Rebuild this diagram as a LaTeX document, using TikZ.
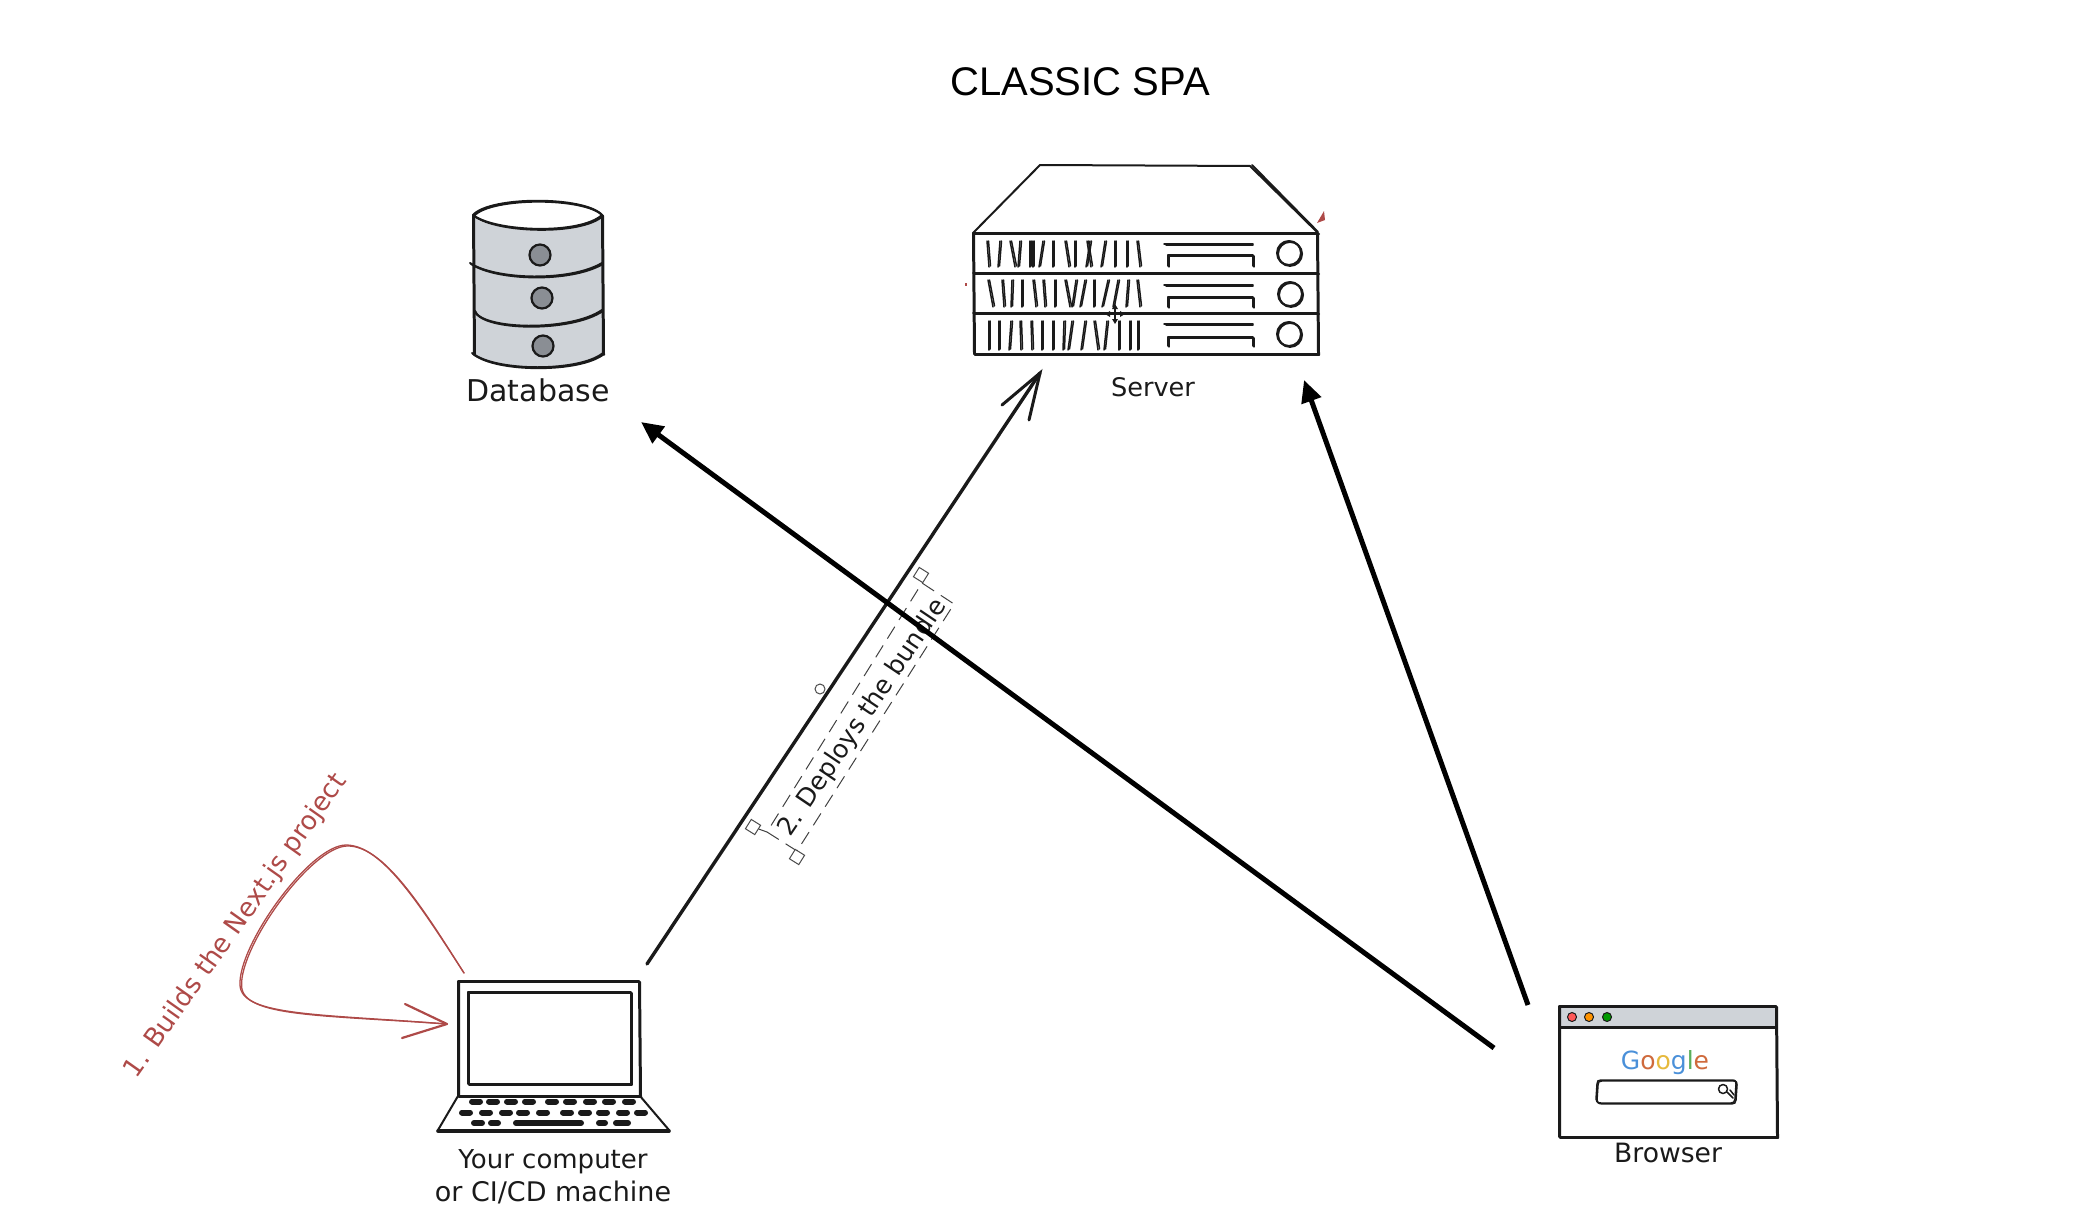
\documentclass[tikz,border=0pt]{standalone}
\usepackage{fontspec}
\setmainfont{DejaVu Sans}
\newfontfamily\titlefont{Liberation Sans}
\usetikzlibrary{arrows.meta}
\definecolor{ink}{HTML}{1A1A1A}
\definecolor{redink}{HTML}{AE4A48}
\definecolor{panel}{HTML}{CFD3D8}
\definecolor{holegray}{HTML}{8A8E94}
\definecolor{gblue}{HTML}{4A90D9}
\definecolor{gorange}{HTML}{CF6A3C}
\definecolor{gyellow}{HTML}{E6B93C}
\definecolor{ggreen}{HTML}{5AAE5A}
\newcommand\twice[2][inkline]{\draw[#1] #2; \draw[#1,shift={(1,0.9)}] #2;}
\tikzset{
  inkline/.style={draw=ink,line width=1pt,line cap=round,line join=round},
  thinline/.style={draw=ink,line width=0.75pt,line cap=round,line join=round},
  redline/.style={draw=redink,line width=0.65pt,line cap=round,line join=round},
  hand/.style={font=\fontsize{13.3}{15}\selectfont,text=ink,inner sep=0pt,align=center},
  bigarrow/.style={draw=black,line width=2.5pt,-{Triangle[length=11pt,width=10pt]},shorten >=0pt},
  handle/.style={draw=black!70,line width=0.5pt,fill=white,minimum size=5.5pt,inner sep=0pt,rotate=-32,rectangle},
  keyrow/.style={draw=ink,line width=3pt,line cap=round},
}
\begin{document}
\begin{tikzpicture}[x=0.5pt,y=-0.5pt]
\useasboundingbox (0,0) rectangle (2086,1204);
\node[font=\titlefont\fontsize{20}{22}\selectfont,inner sep=0pt] (title) at (1080,82) {CLASSIC SPA};

% ---- Database
\fill[panel] (473,215) -- (473,353) .. controls (490,372) and (585,372) .. (602,353) -- (602,215) -- cycle;
\fill[white] (538,215) ellipse [x radius=64,y radius=14];
\twice{(473,215) -- (474,354)}
\twice{(602,215) -- (603,354)}
\twice{(473,215) .. controls (490,196) and (585,196) .. (602,215)}
\twice{(473,215) .. controls (495,232) and (580,235) .. (602,215)}
\twice{(470,263) .. controls (495,280) and (570,282) .. (602,263)}
\twice{(474,310) .. controls (480,330) and (570,332) .. (602,310)}
\twice{(472,353) .. controls (495,372) and (580,372) .. (603,353)}
\foreach \yy/\xx in {255/540,298/542,346/543}{
  \filldraw[fill=holegray,draw=ink,line width=1.1pt] (\xx,\yy) circle [radius=10.5];
}
\node[hand,font=\fontsize{15}{17}\selectfont] (dblabel) at (538,390) {Database};

% ---- Server
\draw[inkline] (973,233) -- (1040,165) -- (1250,166) -- (1317,232);
\draw[inkline] (1252,165) -- (1318,232);
\twice{(973,233) -- (1318,233)}
\twice{(973,273) -- (1318,273)}
\twice{(973,313) -- (1318,313)}
\twice{(974,354) -- (1318,354)}
\twice{(973,233) -- (974,354)}
\twice{(1317,233) -- (1318,354)}
\foreach \x/\d in {987/2,1000/-2,1010/5,1020/-2,1030/0,1033/0,1043/-4,1053/0,1065/4,1075/0,1087/4,1090/-4,1105/-4,1115/0,1127/0,1137/3}{
  \draw[thinline] (\x,241) -- ++(\d,26);
  \draw[thinline] (\x+1.5,241) -- ++(\d,25);
}
\foreach \x/\d in {988/5,1002/2,1012/-1,1022/0,1033/3,1043/2,1055/0,1065/5,1076/-4,1085/-5,1094/0,1108/-6,1118/-5,1128/-2,1137/3}{
  \draw[thinline] (\x,280) -- ++(\d,27);
  \draw[thinline] (\x+1.5,280) -- ++(\d,26);
}
\foreach \x/\d in {989/0,999/0,1011/-2,1020/1,1031/1,1042/0,1053/0,1064/-1,1072/-4,1085/-4,1094/4,1107/-3,1119/0,1130/0,1138/0}{
  \draw[thinline] (\x,321) -- ++(\d,29);
  \draw[thinline] (\x+1.5,321) -- ++(\d,28);
}
\foreach \ya/\yb/\yc/\cx/\cy in {244/255/266/1289/253,285/297/307/1290/294,324/337/346/1289/334}{
  \draw[thinline] (1164,\ya) -- (1253,\ya);
  \draw[thinline] (1166,\ya+1) -- (1253,\ya+1);
  \twice[thinline]{(1168,\yc) -- (1168,\yb) -- (1253,\yb) -- (1253,\yc)}
  \twice{(\cx,\cy) circle [radius=12]}
}
\fill[redink] (1317,223) -- (1324,211) -- (1325,220) -- cycle;
\fill[redink] (965,283) rectangle (966.5,286);
\begin{scope}[shift={(1115,314)}]
  \draw[ink,line width=1pt] (-8,0) -- (8,0) (0,-8) -- (0,8);
  \fill[ink] (-10,0) -- (-5,-3) -- (-5,3) -- cycle (10,0) -- (5,-3) -- (5,3) -- cycle
     (0,-10) -- (-3,-5) -- (3,-5) -- cycle (0,10) -- (-3,5) -- (3,5) -- cycle;
\end{scope}
\node[hand,font=\fontsize{12.8}{15}\selectfont] (srvlabel) at (1153,387) {Server};

% ---- Laptop
\begin{scope}[shift={(-3,-4)}]
\twice{(461,985) -- (642,985) -- (643,1100) -- (461,1100) -- cycle}
\twice{(471,996) -- (634,996) -- (634,1088) -- (471,1088) -- cycle}
\twice{(461,1100) -- (643,1100)}
\draw[inkline] (461,1100) -- (441,1134);
\draw[inkline] (643,1100) -- (672,1134);
\draw[draw=ink,line width=1.8pt,line cap=round] (441,1135) -- (672,1135);
\foreach \x in {475,492,510,528,551,569,589,608,628}{ \draw[keyrow] (\x,1105.5) -- (\x+8,1105.5); }
\foreach \x in {465,485,505,522,542,566,584,602,622,640}{ \draw[keyrow] (\x,1116.5) -- (\x+8,1116.5); }
\draw[keyrow] (477,1127) -- (485,1127) (494,1127) -- (501,1127) (519,1127) -- (584,1127) (602,1127) -- (608,1127) (619,1127) -- (631,1127);
\end{scope}
\node[hand,font=\fontsize{13}{15}\selectfont] (lap1) at (553,1162) {Your computer};
\node[hand,font=\fontsize{13.5}{15}\selectfont] (lap2) at (553,1192) {or CI/CD machine};

% ---- Browser
\fill[panel] (1559,1006) rectangle (1776,1027);
\twice{(1559,1006) -- (1776,1006) -- (1777,1137) -- (1559,1137) -- cycle}
\twice{(1560,1027) -- (1776,1027)}
\filldraw[fill=red!65!white,draw=ink,line width=0.5pt] (1572,1017) circle [radius=4.5];
\filldraw[fill=orange!85!yellow,draw=ink,line width=0.5pt] (1589,1017) circle [radius=4.5];
\filldraw[fill=green!60!black,draw=ink,line width=0.5pt] (1607,1017) circle [radius=4.5];
\node[font=\fontsize{12.5}{14}\selectfont,inner sep=0pt] (google) at (1665,1063)
  {\textcolor{gblue}{G}\textcolor{gorange}{o}\textcolor{gyellow}{o}\textcolor{gblue}{g}\textcolor{ggreen}{l}\textcolor{gorange}{e}};
\twice[thinline]{(1601,1080) -- (1732,1080) .. controls (1736,1080) and (1736,1082) .. (1736,1084) -- (1735,1099) .. controls (1735,1102) and (1733,1103) .. (1731,1103) -- (1601,1103) .. controls (1597,1103) and (1596,1101) .. (1596,1099) -- (1597,1084) .. controls (1597,1081) and (1598,1080) .. (1601,1080) -- cycle}
\draw[thinline] (1723,1089) circle [radius=4.5];
\draw[thinline] (1727,1092) -- (1733,1098) (1730,1090) -- (1734,1095);
\node[hand] (brlabel) at (1668,1153) {Browser};

% ---- Connectors
\coordinate (lapout) at (647,964);
\coordinate (srvin) at (1040,373);
\coordinate (brdb) at (1494,1048);
\coordinate (dbin) at (641,422);
\coordinate (brsrv) at (1528,1005);
\coordinate (srvin2) at (1304,380);
\coordinate (redstart) at (464,973);
\coordinate (redend) at (447,1024);

\draw[ink,line width=1.7pt,line cap=round] (lapout) -- (srvin);
\draw[ink,line width=1.5pt,line cap=round] (1002,405) -- (srvin) -- (1029,420);

% ---- Selection frame and label
\coordinate (fa) at (767,832);
\coordinate (fb) at (797,851);
\coordinate (fc) at (954,604);
\coordinate (fd) at (922,583);
\draw[draw=black!75,line width=0.5pt,dash pattern=on 7pt off 4pt] (fa) -- (fb) -- (fc) -- (fd) -- cycle;
\node[handle] (h1) at (753,827) {};
\node[handle] (h2) at (797,857) {};
\node[handle] (h3) at (921,575) {};
\draw[black!75,line width=0.5pt] (h1) -- (fa) (h2) -- (fb) (h3) -- (fd);
\node[draw=black!70,line width=0.5pt,fill=white,circle,minimum size=5pt,inner sep=0pt] (rot) at (820,689) {};
\node[hand,font=\fontsize{12.6}{15}\selectfont,rotate=56] (deploy) at (863,718) {2. Deploys the bundle};

\draw[bigarrow] (brdb) -- (dbin);
\draw[bigarrow] (brsrv) -- (srvin2);

% ---- Red loop
\foreach \o in {0,1.6}{
\draw[redline,shift={(\o,\o*0.6)}] (redstart) .. controls (420,905) and (382,845) .. (346,845)
   .. controls (310,845) and (238,945) .. (240,985)
   .. controls (241,1016) and (320,1014) .. (redend);
}
\draw[draw=redink,line width=1.1pt,line cap=round,line join=round] (405,1004) -- (redend) -- (402,1038);
\node[hand,text=redink,font=\fontsize{13.1}{15}\selectfont,rotate=54.8] (buildlabel) at (236,926) {1. Builds the Next.js project};
\end{tikzpicture}
\end{document}
